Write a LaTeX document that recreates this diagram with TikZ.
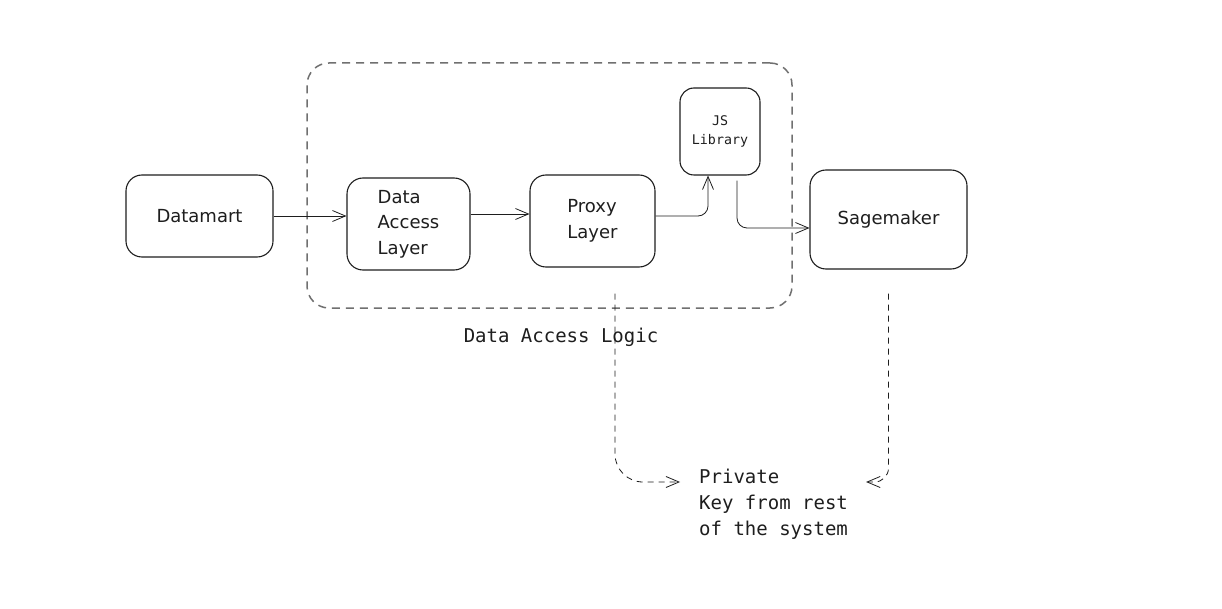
\documentclass[tikz,border=0pt]{standalone}
\usepackage{fontspec}
\setmainfont{DejaVu Sans}
\newfontfamily\monof{DejaVu Sans Mono}
\usetikzlibrary{arrows.meta}
\definecolor{ink}{HTML}{1E1E1E}
\definecolor{frame}{HTML}{707070}
\begin{document}
\begin{tikzpicture}[x=1pt,y=-1pt,
 box/.style={draw=ink, line width=1.1pt, rounded corners=16pt, inner sep=0pt, text=ink, font=\fontsize{18}{25.5}\selectfont, align=left},
 arr/.style={draw=ink, line width=0.8pt, -{Straight Barb[length=13pt,width=11pt]}},
 dasharr/.style={arr, dash pattern=on 6pt off 5pt},
 mono/.style={font=\monof\fontsize{19}{26}\selectfont, text=ink, inner sep=0pt}]
\useasboundingbox[fill=white] (0,0) rectangle (1222,609);
\node[draw=frame, line width=1.5pt, dash pattern=on 8pt off 6pt, rounded corners=22pt, minimum width=485pt, minimum height=245pt, inner sep=0pt] (grp) at (549.5,185.5) {};
\node[box, minimum width=147pt, minimum height=82pt] (dm) at (199.5,216) {Datamart};
\node[box, minimum width=123pt, minimum height=92pt] (dal) at (408.5,224) {Data\\Access\\Layer};
\node[box, minimum width=125pt, minimum height=92pt] (px) at (592.5,221) {Proxy\\Layer};
\node[box, minimum width=80pt, minimum height=87pt, rounded corners=14pt, font=\monof\fontsize{13.3}{19}\selectfont, align=center] (js) at (720,131.5) {JS\\Library};
\node[box, minimum width=157pt, minimum height=99pt] (sm) at (888.5,219.5) {Sagemaker};
\node[mono] (lbl) at (561,337) {Data Access Logic};
\node[mono, align=left, anchor=north west] (pk) at (699,469) {Private\\Key from rest\\of the system};
\draw[arr] (dm.east) -- (dm.east -| dal.west);
\draw[arr] ([yshift=10pt]dal.east) -- ([yshift=10pt]dal.east -| px.west);
\draw[arr, rounded corners=10pt] ([yshift=5pt]px.east) -| ([xshift=-12pt]js.south);
\draw[arr, rounded corners=10pt] ([xshift=17pt,yshift=-5pt]js.south) |- ([yshift=-8.5pt]sm.west);
\draw[dasharr, rounded corners=28pt] ([xshift=22.5pt,yshift=-26pt]px.south) |- ([xshift=-19pt,yshift=-13pt]pk.north west);
\draw[dasharr, rounded corners=14pt] ([yshift=-24pt]sm.south) |- ([xshift=18pt,yshift=-13pt]pk.north east);
\end{tikzpicture}
\end{document}
